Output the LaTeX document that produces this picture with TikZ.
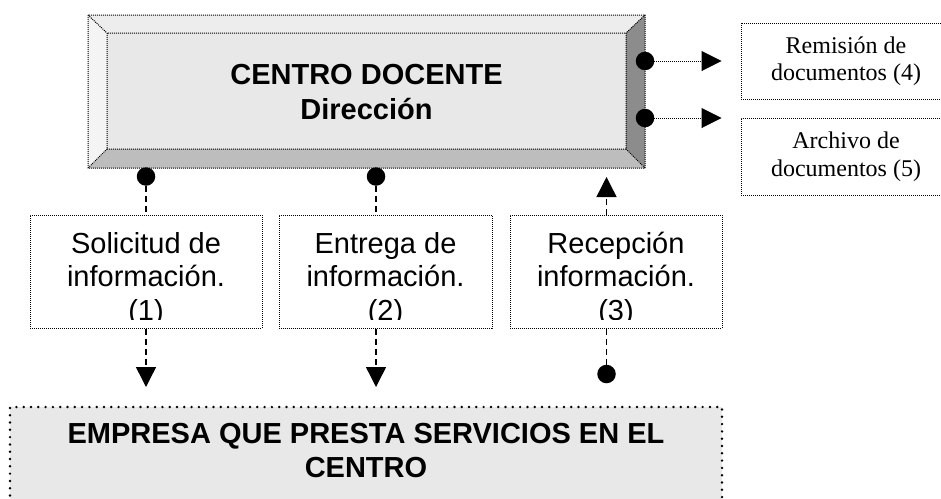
\documentclass[tikz,border=0pt]{standalone}
\usepackage{fontspec}
\setmainfont{Liberation Serif}
\setsansfont{Liberation Sans}
\usetikzlibrary{arrows.meta,positioning}
\definecolor{faceg}{HTML}{E8E8E8}
\definecolor{topg}{HTML}{EDEDED}
\definecolor{leftg}{HTML}{F4F4F4}
\definecolor{botg}{HTML}{BDBDBD}
\definecolor{rightg}{HTML}{8C8C8C}
\begin{document}
\begin{tikzpicture}[x=1pt,y=-1pt,line join=round,
	dotline/.style={line width=1pt,dash pattern=on 1pt off 1pt},
	dashline/.style={line width=1.4pt,dash pattern=on 6pt off 4pt},
	tip/.style={-{Triangle[length=20pt,width=20pt]}},
	blob/.style={circle,fill,inner sep=0pt,minimum size=18.5pt},
	infobox/.style={draw,dotline,minimum height=113pt,inner sep=0pt},
	docbox/.style={draw,dotline,minimum width=210pt,minimum height=76pt,align=center,font=\fontsize{24}{27.5}\selectfont},
	bigtxt/.style={font=\sffamily\fontsize{29}{33.5}\selectfont,align=center,inner sep=0pt}]
	\useasboundingbox (0,0) rectangle (941,498);
	% bevel frame of the centro
	\coordinate (oNW) at (88,15); \coordinate (oNE) at (645,15);
	\coordinate (oSW) at (88,168); \coordinate (oSE) at (645,168);
	\coordinate (iNW) at (107,33); \coordinate (iNE) at (626,33);
	\coordinate (iSW) at (107,149); \coordinate (iSE) at (626,149);
	\fill[topg] (oNW)--(oNE)--(iNE)--(iNW)--cycle;
	\fill[leftg] (oNW)--(iNW)--(iSW)--(oSW)--cycle;
	\fill[botg] (oSW)--(iSW)--(iSE)--(oSE)--cycle;
	\fill[rightg] (oNE)--(iNE)--(iSE)--(oSE)--cycle;
	\fill[faceg] (iNW) rectangle (iSE);
	\draw[dotline] (oNW) rectangle (oSE) (iNW) rectangle (iSE)
		(oNW)--(iNW) (oNE)--(iNE) (oSW)--(iSW) (oSE)--(iSE);
	\node[bigtxt,font=\sffamily\bfseries\fontsize{29}{35}\selectfont] (centro) at (366.5,92) {CENTRO DOCENTE\\Dirección};
	% documentos
	\node[docbox] (rem) at (846,61) {Remisión de\\documentos (4)};
	\node[docbox,minimum height=77pt] (arc) at (846,156.5) {Archivo de\\documentos (5)};
	% informacion
	\node[infobox,minimum width=232pt] (sol) at (146,271.5) {};
	\node[infobox,minimum width=213pt] (ent) at (385.5,271.5) {};
	\node[infobox,minimum width=212pt] (rec) at (616,271.5) {};
	\foreach \b/\t in {sol/{Solicitud de\\información.\\(1)},ent/{Entrega de\\información.\\(2)},rec/{Recepción\\información.\\(3)}}{
		\begin{scope}
			\clip (\b.north west) rectangle ([yshift=9pt]\b.south east);
			\node[bigtxt] (\b-txt) at ([yshift=-7.5pt]\b.center) {\t};
		\end{scope}}
	% empresa
	\node[draw,fill=faceg,line width=2.7pt,dash pattern=on 0pt off 7.3pt,line cap=round,minimum width=712pt,minimum height=130pt,inner sep=0pt,outer sep=0pt,anchor=north west] (emp) at (10,407) {};
	\node[bigtxt,font=\sffamily\bfseries\fontsize{29}{34}\selectfont] (emp-txt) at (366,450.5) {EMPRESA QUE PRESTA SERVICIOS EN EL\\CENTRO};
	% dots and connectors
	\node[blob] (dRem) at (645,61) {};
	\node[blob] (dArc) at (645,118) {};
	\node[blob] (dSol) at (146,176.5) {};
	\node[blob] (dEnt) at (376,176.5) {};
	\node[blob] (dRec) at (606.5,374) {};
	\draw[dotline,tip,shorten >=19pt] (dRem) -- (rem.west |- dRem);
	\draw[dotline,tip,shorten >=19pt] (dArc) -- (arc.west |- dArc);
	\draw[dashline] (dSol) -- (dSol |- sol.north);
	\draw[dashline] (dEnt) -- (dEnt |- ent.north);
	\draw[dashline,tip,shorten >=20pt] (dSol |- sol.south) -- (dSol |- emp.north);
	\draw[dashline,tip,shorten >=20pt] (dEnt |- ent.south) -- (dEnt |- emp.north);
	\draw[dashline,tip,shorten >=9pt] (dRec |- rec.north) -- (dRec |- oSE);
	\draw[dashline] (dRec |- rec.south) -- (dRec);
\end{tikzpicture}
\end{document}
